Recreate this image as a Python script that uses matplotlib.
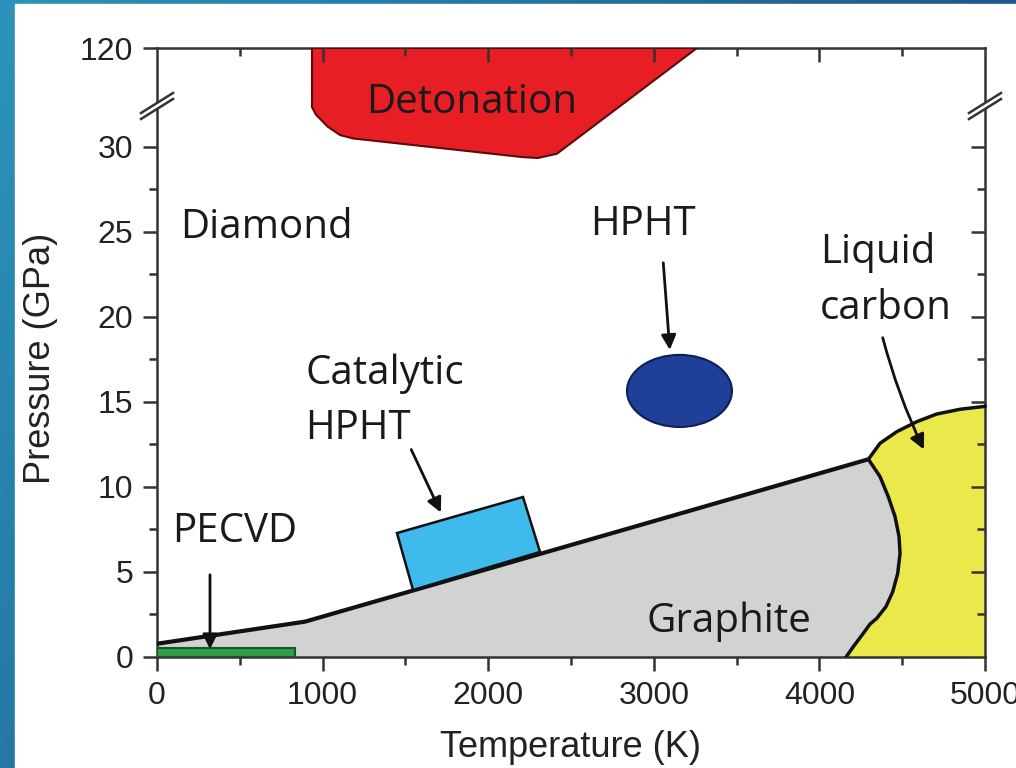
# Carbon phase diagram with synthesis regions (broken pressure axis)
import numpy as np
import matplotlib
matplotlib.use("Agg")
import matplotlib.pyplot as plt
from matplotlib.patches import Polygon, Ellipse, Rectangle, FancyArrowPatch

# --- data (Temperature K, Pressure GPa) ---
# graphite / diamond boundary
gd_T = [0, 894, 4296]
gd_P = [0.78, 2.08, 11.63]
# graphite / liquid boundary (top -> bottom)
gl_T = [4296, 4366, 4416, 4457, 4481, 4487, 4473, 4443, 4402, 4346, 4306, 4265, 4205, 4161]
gl_P = [11.63, 10.61, 9.43, 8.25, 7.08, 6.10, 4.92, 3.84, 2.96, 2.27, 1.94, 1.39, 0.61, 0.0]
# diamond / liquid boundary
dl_T = [4296, 4366, 4467, 4588, 4708, 4849, 4990, 5000]
dl_P = [11.63, 12.57, 13.25, 13.84, 14.29, 14.57, 14.73, 14.76]

# synthesis regions
pecvd_T = (0, 833)
pecvd_P = (0, 0.55)
cat_T = [1449, 2210, 2313, 1546]
cat_P = [7.29, 9.41, 6.18, 3.94]
hpht_center = (3155, 15.65)
hpht_size = (634, 4.24)
det_T = [936, 936, 960, 1030, 1105, 1184, 2210, 2300, 2415, 3261]
det_P = [120, 34.5, 31.9, 31.2, 30.7, 30.5, 29.4, 29.35, 29.6, 120]

# labels: text, T, P
labels = [
    ("Detonation", 1902, 32.0, "center"),
    ("Diamond", 139, 24.65, "left"),
    ("HPHT", 2935, 24.8, "center"),
    ("Liquid", 4004, 23.2, "left"),
    ("carbon", 4004, 19.9, "left"),
    ("Catalytic", 894, 16.06, "left"),
    ("HPHT", 894, 12.8, "left"),
    ("PECVD", 91, 6.76, "left"),
    ("Graphite", 3454, 1.47, "center"),
]
# arrows: (start T, start P), (end T, end P), curvature
arrows = [
    ((320, 5.0), (320, 0.3), 0.0),
    ((1528, 12.35), (1721, 8.35), 0.0),
    ((3056, 23.35), (3098, 17.9), 0.0),
    ((4378, 18.94), (4638, 12.06), 0.05),
]

x_major = [0, 1000, 2000, 3000, 4000, 5000]
x_minor = [500, 1500, 2500, 3500, 4500]
y_major = [0, 5, 10, 15, 20, 25, 30, 120]
y_minor = [2.5, 7.5, 12.5, 17.5, 22.5, 27.5]

# broken y scale: linear up to B, compressed above
B = 32.25
K = (35.82 - B) / (120 - B)


def fwd(y):
    y = np.asarray(y, dtype=float)
    return np.where(y <= B, y, B + (y - B) * K)


def inv(y):
    y = np.asarray(y, dtype=float)
    return np.where(y <= B, y, B + (y - B) / K)


fig = plt.figure(figsize=(10.16, 7.68), dpi=100)

# slide-like blue background with white panel
bg = fig.add_axes([0, 0, 1, 1], zorder=-10)
gx, gy = np.meshgrid(np.linspace(0, 1, 200), np.linspace(0, 1, 200))
t = np.clip(0.75 * gx + 0.35 * gy, 0, 1)
c0 = np.array([0.17, 0.58, 0.73])
c1 = np.array([0.10, 0.27, 0.50])
img = c0[None, None, :] * (1 - t[..., None]) + c1[None, None, :] * t[..., None]
bg.imshow(img, origin="upper", extent=[0, 1, 0, 1], aspect="auto")
bg.add_patch(Rectangle((15 / 1016, 0), 1, 1 - 4 / 768, color="white"))
bg.set_xlim(0, 1)
bg.set_ylim(0, 1)
bg.axis("off")

ax = fig.add_axes([157 / 1016, 1 - 657 / 768, 828 / 1016, 609 / 768])
ax.set_yscale("function", functions=(fwd, inv))
ax.set_xlim(0, 5000)
ax.set_ylim(0, 120)
ax.patch.set_alpha(0)

dark = "#333333"
edge = "#111111"

# graphite region
gr_T = [0] + gd_T + gl_T[1:]
gr_P = [0] + gd_P + gl_P[1:]
ax.add_patch(Polygon(np.column_stack([gr_T, gr_P]), closed=True,
                     facecolor="#d2d2d2", edgecolor="none", zorder=1))
# liquid region
lq_T = dl_T + [5000] + gl_T[::-1]
lq_P = dl_P + [0] + gl_P[::-1]
ax.add_patch(Polygon(np.column_stack([lq_T, lq_P]), closed=True,
                     facecolor="#ebe84c", edgecolor="none", zorder=1))
ax.plot(gd_T, gd_P, color=edge, lw=3, zorder=3, solid_capstyle="butt")
ax.plot(gl_T, gl_P, color=edge, lw=2.5, zorder=3)
ax.plot(dl_T, dl_P, color=edge, lw=2.5, zorder=3, clip_on=False)

# synthesis regions
ax.add_patch(Rectangle((pecvd_T[0], pecvd_P[0]), pecvd_T[1] - pecvd_T[0],
                       pecvd_P[1] - pecvd_P[0], facecolor="#2f9e4a",
                       edgecolor="#145a25", lw=1.5, zorder=4))
ax.add_patch(Polygon(np.column_stack([cat_T, cat_P]), closed=True,
                     facecolor="#3fbaec", edgecolor=edge, lw=1.8, zorder=4))
ax.add_patch(Ellipse(hpht_center, hpht_size[0], hpht_size[1],
                     facecolor="#1f3f98", edgecolor="#0d1f55", lw=1.5, zorder=4))
ax.add_patch(Polygon(np.column_stack([det_T, det_P]), closed=True,
                     facecolor="#e81e25", edgecolor="#5a0a0a", lw=1.5,
                     joinstyle="round", zorder=4))

# labels
lab_font = ["Open Sans", "DejaVu Sans"]
for txt, tx, ty, ha in labels:
    ax.text(tx, ty, txt, ha=ha, va="baseline", fontsize=29,
            family=lab_font, color="#1a1a1a", zorder=6)

for (s, e, rad) in arrows:
    ax.add_patch(FancyArrowPatch(s, e, arrowstyle="-|>", mutation_scale=22,
                                 connectionstyle=f"arc3,rad={rad}",
                                 color=edge, lw=2, zorder=6))

# axes styling
tick_font = ["Liberation Sans", "DejaVu Sans"]
for sp in ax.spines.values():
    sp.set_color(dark)
    sp.set_linewidth(1.8)
ax.set_xticks(x_major)
ax.set_xticks(x_minor, minor=True)
ax.set_yticks(y_major)
ax.set_yticks(y_minor, minor=True)
ax.set_yticklabels([str(v) for v in y_major])
ax.tick_params(which="both", direction="out", color=dark, width=1.8,
               labelsize=23, pad=7, labelcolor="#222222")
ax.tick_params(which="major", length=10)
ax.tick_params(which="minor", length=6)
for lab in ax.get_xticklabels() + ax.get_yticklabels():
    lab.set_family(tick_font)

ax.set_xlabel("Temperature (K)", fontsize=26, family=tick_font, color="#222222")
ax.set_ylabel("Pressure (GPa)", fontsize=26, family=tick_font, color="#222222")
ax.xaxis.set_label_coords(0.5, -0.12)
ax.yaxis.set_label_coords(-0.12, 0.49)

# inward ticks on top and right
axt = ax.twiny()
axt.set_xlim(ax.get_xlim())
axt.set_xticks(x_major[1:-1])
axt.set_xticks(x_minor, minor=True)
axt.tick_params(which="both", direction="in", color=dark, width=1.8,
                labeltop=False, top=True)
axt.tick_params(which="major", length=10)
axt.tick_params(which="minor", length=6)
axr = ax.twinx()
axr.set_yscale("function", functions=(fwd, inv))
axr.set_ylim(ax.get_ylim())
axr.set_yticks(y_major[1:-1])
axr.set_yticks(y_minor, minor=True)
axr.tick_params(which="both", direction="in", color=dark, width=1.8,
                labelright=False, right=True)
axr.tick_params(which="major", length=10)
axr.tick_params(which="minor", length=6)
for a in (axt, axr):
    for sp in a.spines.values():
        sp.set_visible(False)

# break marks on both vertical axes
yb = (657 - 109) / 609
dx, dy, gap = 16 / 828, 10 / 609, 6 / 609
for xs in (0, 1):
    ax.fill([xs - dx, xs + dx, xs + dx, xs - dx],
            [yb - dy, yb + dy, yb + dy + gap, yb - dy + gap],
            color="white", transform=ax.transAxes, clip_on=False, zorder=7)
    for off in (0, gap):
        ax.plot([xs - dx, xs + dx], [yb - dy + off, yb + dy + off],
                color=dark, lw=1.8, transform=ax.transAxes,
                clip_on=False, zorder=8)

fig.savefig("out.png", dpi=100)
